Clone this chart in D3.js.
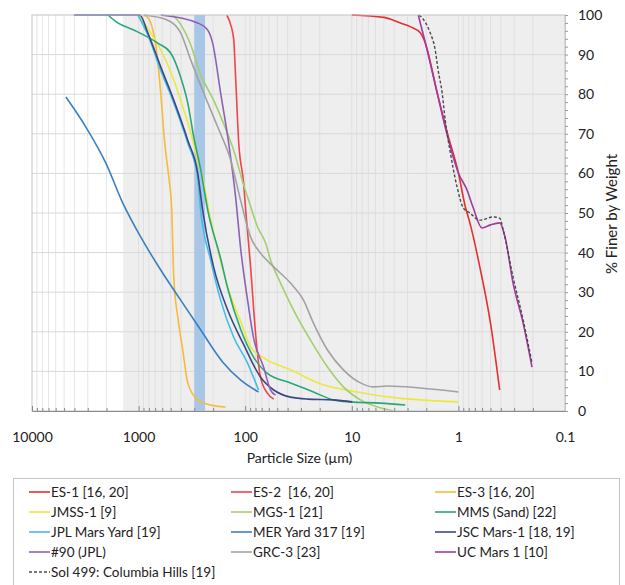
<!DOCTYPE html>
<html>
<head>
<meta charset="utf-8">
<script src="https://cdn.jsdelivr.net/npm/d3@7"></script>
<style>
  body { margin: 0; background: #fff; }
  text { font-family: Lato, "Open Sans", sans-serif; fill: #222; white-space: pre; }
</style>
</head>
<body>
<div id="chart"></div>
<script>
// particle size (um) / % finer by weight
var es1 = [[10,100],[5,99.4],[3.5,98],[2.8,97],[2.28,95.5],[2.05,93],[1.58,80.3],[1.27,70.2],[1.0,60.1],[0.86,51.5],[0.78,47.5],[0.63,36.4],[0.5,22.2],[0.41,5.3]];
var es2 = [[149,100],[135,97],[128,93.7],[123,84.3],[115,67.7],[103.5,57.6],[99,50.8],[89,36.4],[80,19.7],[72,8.6],[62,4.5],[54,3.0]];
var es3 = [[900,100],[800,99],[740,96.5],[690,92.4],[620,80.3],[569,67.7],[521,59.1],[489,50.8],[468,33.8],[429,23.7],[385,15.4],[346,7.1],[279,2.8],[211,1.5],[153,1.0]];
var jmss1 = [[1000,100],[802,96.2],[620,91.2],[478,84.3],[377,76],[324,70.2],[279,63.4],[245,57.6],[220,50.8],[181,40.7],[146,31.3],[110,22.5],[89,16.2],[67,13.4],[37.6,10.4],[18.5,6.6],[8.9,4.8],[4.35,3.5],[2.28,2.8],[1.0,2.3]];
var mgs1 = [[478,100],[400,97.5],[330,93],[262,85],[198,78.5],[159,72.5],[128.5,65.9],[103.5,57.1],[93,53.3],[76.6,46.5],[64.4,42.4],[57.8,38.1],[46.6,32.3],[35.2,25.5],[24.4,17.9],[16.9,11.1],[12,6.1],[8.3,2.8],[5.4,0.8],[4.07,0]];
var mms = [[1942,100],[1567,98],[1109,96.2],[661,92.9],[500,90.4],[403,84.3],[346,77.8],[304,69.2],[262,61],[225,50.8],[170,38.5],[146,31],[110,20.5],[83,13.5],[62,9.5],[37.6,7.1],[22.9,4.8],[14.9,2.8],[10.3,2.3],[5.4,2.0],[3.15,1.5]];
var jplYard = [[1016,100],[820,95],[620,86],[468,77.8],[346,67.7],[279,59],[262,50.8],[211,38.1],[170,28],[128.5,18.7],[95,12.1],[75,5.3]];
var merYard = [[4806,79.3],[3121,71.7],[2028,62.6],[1406,52.5],[953,43.9],[620,35.6],[403,28],[262,20.5],[163,12.4],[110,7.8],[75,4.8]];
var jscMars = [[4045,100],[975,100],[820,95.5],[620,86.9],[468,78.5],[346,68.4],[279,60.1],[251,50.8],[198,36.4],[146,25.5],[103.5,16.8],[72,8.6],[54,5.3],[37.6,3.5],[26,3.0],[15,2.8],[9.9,2.3]];
var jpl90 = [[620,100],[279,98],[225,96.2],[202,92.9],[170,80.3],[143,67.7],[123,54],[110,40.7],[95,28],[83.4,18.4],[67.3,11.1],[57.8,5.3],[51.9,4.0]];
var grc3 = [[894,100],[533,98.7],[403,95.5],[324,88.6],[245,80.3],[181,71.7],[137,63.4],[110,53],[89,43.9],[72,39.9],[54,36.4],[37.6,32.3],[28.4,28],[22.9,22.2],[16.9,15.4],[12,10.4],[8.3,7.1],[6.3,6.1],[4.6,6.3],[2.28,5.8],[1.0,4.8]];
var ucMars = [[2.38,100],[2.05,93.2],[1.58,80.3],[1.33,71.7],[1.0,60.1],[0.83,55.8],[0.73,51.5],[0.6,46.2],[0.5,47.0],[0.41,47.5],[0.365,43.9],[0.307,32.3],[0.247,22.2],[0.204,11.1]];
var sol499 = [[2.33,100],[2.05,98.2],[1.84,95.5],[1.65,91.2],[1.55,86.1],[1.42,80.3],[1.33,73.5],[1.19,65.2],[1.03,56.6],[0.9,51.3],[0.78,50],[0.63,48.2],[0.47,49],[0.41,48.7],[0.38,45.7],[0.307,33.8],[0.247,23],[0.204,12.1]];

var seriesNames = ["ES-1 [16, 20]", "ES-2  [16, 20]", "ES-3 [16, 20]",
  "JMSS-1 [9]", "MGS-1 [21]", "MMS (Sand) [22]",
  "JPL Mars Yard [19]", "MER Yard 317 [19]", "JSC Mars-1 [18, 19]",
  "#90 (JPL)", "GRC-3 [23]", "UC Mars 1 [10]",
  "Sol 499: Columbia Hills [19]"];
var seriesData = [es1, es2, es3, jmss1, mgs1, mms, jplYard, merYard, jscMars, jpl90, grc3, ucMars, sol499];

var xDecades = [10000, 1000, 100, 10, 1, 0.1];
var yTicks = d3.range(0, 101, 2);
var shadeRange = [1400, 0.1];   // grey region
var bandRange = [300, 238];     // blue band

// styles
var colors = ["#e3312f", "#f0454a", "#f4bc3a", "#ebe83e", "#a4cf6e", "#2aa678",
  "#43bde6", "#3a80c0", "#3c4886", "#8c62b6", "#a2a2a2", "#a23aa0", "#4a4a4a"];

var svgWidth = 625, svgHeight = 585;
var margin = { top: 15, right: 60, bottom: 174, left: 32 };
var chartWidth = svgWidth - margin.left - margin.right;
var chartHeight = svgHeight - margin.top - margin.bottom;

var svg = d3.select("#chart").append("svg")
  .attr("width", svgWidth)
  .attr("height", svgHeight);

var chartGroup = svg.append("g")
  .attr("transform", `translate(${margin.left}, ${margin.top})`);

var x = d3.scaleLog().domain([10000, 0.1]).range([0, chartWidth]);
var y = d3.scaleLinear().domain([0, 100]).range([chartHeight, 0]);

// backgrounds
chartGroup.append("rect")
  .attr("width", chartWidth).attr("height", chartHeight)
  .attr("fill", "#fff");
chartGroup.append("rect")
  .attr("x", x(shadeRange[0])).attr("width", x(shadeRange[1]) - x(shadeRange[0]))
  .attr("height", chartHeight)
  .attr("fill", "#eeeeee");

// grid
var minorVals = [];
xDecades.slice(1).forEach(function(d) {
  for (var k = 1; k < 10; k++) minorVals.push(d * k);
});
chartGroup.append("g").selectAll("line")
  .data(minorVals.filter(v => v > 0.1 && v < 10000))
  .enter().append("line")
  .attr("x1", d => x(d)).attr("x2", d => x(d))
  .attr("y1", 0).attr("y2", chartHeight)
  .attr("stroke", "#d6d6d6")
  .attr("stroke-opacity", 0.6);
chartGroup.append("g").selectAll("line")
  .data(d3.range(10, 100, 10))
  .enter().append("line")
  .attr("x1", 0).attr("x2", chartWidth)
  .attr("y1", d => y(d)).attr("y2", d => y(d))
  .attr("stroke", "#d9d9d9");

// blue band
chartGroup.append("rect")
  .attr("x", x(bandRange[0])).attr("width", x(bandRange[1]) - x(bandRange[0]))
  .attr("height", chartHeight)
  .attr("fill", "#a8c6e6");

// curves
var line = d3.line()
  .x(d => x(d[0]))
  .y(d => y(d[1]))
  .curve(d3.curveMonotoneX);

seriesData.forEach(function(s, i) {
  chartGroup.append("path")
    .datum(s)
    .attr("d", line)
    .attr("fill", "none")
    .attr("stroke", colors[i])
    .attr("stroke-width", i == 12 ? 1.4 : 1.6)
    .attr("stroke-dasharray", i == 12 ? "3,2" : null);
});

// border
chartGroup.append("rect")
  .attr("width", chartWidth).attr("height", chartHeight)
  .attr("fill", "none")
  .attr("stroke", "#c4c4c4");

// x axis
var isDecade = v => Math.abs(Math.log10(v) - Math.round(Math.log10(v))) < 1e-9;
var bottomAxis = d3.axisBottom(x)
  .tickValues(minorVals.concat([10000]).filter(v => v >= 0.1 && v <= 10000))
  .tickSize(-3)
  .tickPadding(21)
  .tickFormat(d => isDecade(d) ? d3.format("~g")(d) : "");
var xAxisG = chartGroup.append("g")
  .attr("transform", `translate(0, ${chartHeight})`)
  .call(bottomAxis);
xAxisG.selectAll("line").attr("stroke", "#888")
  .filter(d => isDecade(d)).attr("y2", -5);
xAxisG.select(".domain").attr("stroke", "#8c8c8c");
xAxisG.selectAll("text").attr("font-size", 14).attr("fill", "#222");

// y axis on right
var rightAxis = d3.axisRight(y)
  .tickValues(yTicks)
  .tickSize(3)
  .tickPadding(10)
  .tickFormat(d => d % 10 == 0 ? d : "");
var yAxisG = chartGroup.append("g")
  .attr("transform", `translate(${chartWidth}, 0)`)
  .call(rightAxis);
yAxisG.selectAll("line").attr("stroke", "#999");
yAxisG.select(".domain").attr("stroke", "#c4c4c4");
yAxisG.selectAll("text").attr("font-size", 14).attr("fill", "#222");

// axis titles
chartGroup.append("text")
  .attr("x", chartWidth / 2 + 1)
  .attr("y", chartHeight + 52)
  .attr("text-anchor", "middle")
  .attr("font-size", 14)
  .text("Particle Size (\u00b5m)");
chartGroup.append("text")
  .attr("transform", `translate(${chartWidth + 52}, ${chartHeight / 2 + 1}) rotate(-90)`)
  .attr("text-anchor", "middle")
  .attr("font-size", 15)
  .text("% Finer by Weight");

// legend
var legend = svg.append("g");
legend.append("rect")
  .attr("x", 13.5).attr("y", 478.5)
  .attr("width", 606).attr("height", 120)
  .attr("fill", "#fff")
  .attr("stroke", "#c4c4c4");
var colX = [29, 231, 435];
seriesNames.forEach(function(name, i) {
  var g = legend.append("g")
    .attr("transform", `translate(${colX[i % 3]}, ${492 + Math.floor(i / 3) * 20})`);
  g.append("line")
    .attr("x1", 0).attr("x2", 21)
    .attr("stroke", colors[i])
    .attr("stroke-width", 1.6)
    .attr("stroke-dasharray", i == 12 ? "3,2" : null);
  g.append("text")
    .attr("x", 22).attr("dy", "0.35em")
    .attr("font-size", 13.5)
    .text(name);
});
</script>
</body>
</html>
